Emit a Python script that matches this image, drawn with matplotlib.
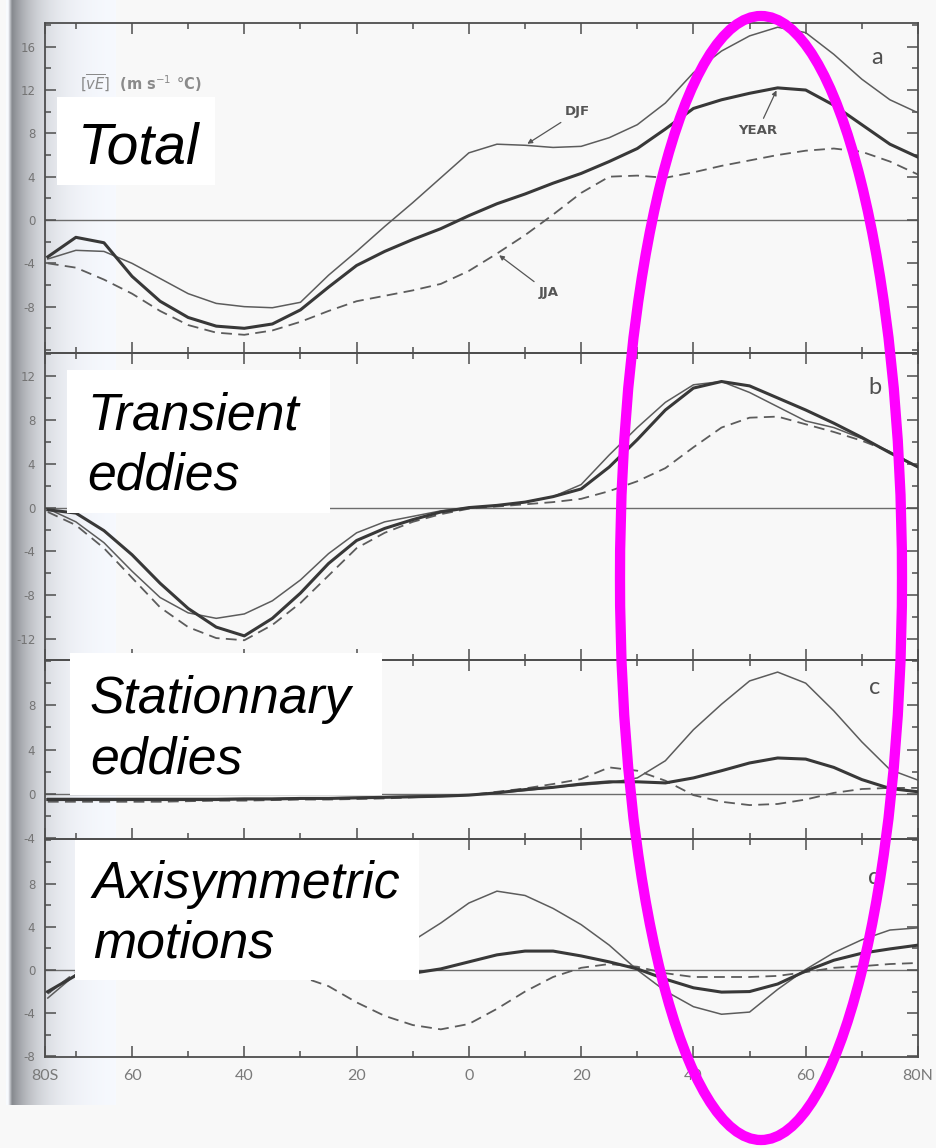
import numpy as np
import matplotlib
matplotlib.use("Agg")
import matplotlib.pyplot as plt
from matplotlib.patches import Ellipse, Rectangle
from matplotlib.ticker import MultipleLocator

# latitude grid (deg, negative = south)
LAT = list(range(-75, 81, 5))

# [vE] northward transport of sensible heat, m s-1 degC
TOTAL_DJF = [-3.6, -2.8, -2.9, -4.0, -5.4, -6.8, -7.7, -8.0, -8.1, -7.6, -5.1, -2.9, -0.6, 1.6, 3.9, 6.2,
             7.0, 6.9, 6.7, 6.8, 7.6, 8.8, 10.8, 13.6, 15.6, 17.0, 17.8, 17.3, 15.3, 13.0, 11.1, 9.9]
TOTAL_YEAR = [-3.4, -1.6, -2.1, -5.2, -7.5, -9.0, -9.8, -10.0, -9.6, -8.3, -6.2, -4.2, -2.9, -1.8, -0.8, 0.4,
              1.5, 2.4, 3.4, 4.3, 5.4, 6.6, 8.4, 10.3, 11.1, 11.7, 12.2, 12.0, 10.6, 8.8, 7.0, 5.8]
TOTAL_JJA = [-4.0, -4.4, -5.5, -6.8, -8.4, -9.7, -10.4, -10.6, -10.2, -9.4, -8.4, -7.5, -7.0, -6.5, -5.9, -4.7,
             -3.1, -1.4, 0.5, 2.5, 4.0, 4.1, 3.9, 4.4, 5.0, 5.5, 6.0, 6.4, 6.6, 6.3, 5.4, 4.2]

TRANS_DJF = [-0.1, -1.3, -3.2, -5.8, -8.2, -9.6, -10.1, -9.7, -8.5, -6.6, -4.2, -2.3, -1.3, -0.8, -0.3, 0.0,
             0.2, 0.5, 1.0, 2.1, 4.8, 7.3, 9.6, 11.2, 11.5, 10.5, 9.2, 7.9, 7.3, 6.3, 5.1, 3.7]
TRANS_YEAR = [-0.2, -0.5, -2.1, -4.3, -6.9, -9.2, -10.9, -11.7, -10.1, -7.8, -5.1, -3.0, -1.9, -1.1, -0.4, 0.0,
              0.2, 0.5, 1.0, 1.7, 3.7, 6.2, 8.9, 10.9, 11.5, 11.1, 10.0, 8.9, 7.7, 6.4, 5.0, 3.7]
TRANS_JJA = [-0.4, -1.6, -3.7, -6.4, -9.1, -10.9, -11.9, -12.1, -10.7, -8.7, -6.2, -3.7, -2.3, -1.3, -0.6, -0.1,
             0.1, 0.3, 0.5, 0.8, 1.5, 2.4, 3.6, 5.5, 7.3, 8.2, 8.3, 7.6, 6.9, 6.1, 5.1, 3.7]

STAT_DJF = [-0.4, -0.4, -0.4, -0.4, -0.4, -0.4, -0.4, -0.4, -0.4, -0.35, -0.35, -0.3, -0.25, -0.2, -0.15, -0.1,
            0.1, 0.3, 0.6, 0.8, 1.0, 1.45, 3.0, 5.8, 8.1, 10.2, 11.0, 10.0, 7.5, 4.7, 2.2, 1.25]
STAT_YEAR = [-0.5, -0.5, -0.5, -0.5, -0.5, -0.5, -0.5, -0.45, -0.45, -0.4, -0.4, -0.35, -0.3, -0.25, -0.2, -0.1,
             0.1, 0.4, 0.6, 0.9, 1.1, 1.1, 1.0, 1.45, 2.1, 2.8, 3.25, 3.15, 2.4, 1.3, 0.5, 0.2]
STAT_JJA = [-0.7, -0.7, -0.7, -0.7, -0.7, -0.65, -0.6, -0.6, -0.55, -0.5, -0.5, -0.45, -0.4, -0.3, -0.2, -0.1,
            0.2, 0.5, 0.9, 1.35, 2.4, 2.1, 1.2, -0.1, -0.7, -1.0, -0.9, -0.5, 0.1, 0.45, 0.55, 0.55]

AXI_DJF = [-2.6, -0.4, 0.4, 0.5, 0.2, -0.3, -0.6, -0.7, -0.6, -0.3, 0.2, 0.9, 1.8, 2.7, 4.35, 6.2,
           7.3, 6.9, 5.7, 4.2, 2.3, 0.0, -1.95, -3.4, -4.1, -3.9, -1.8, 0.05, 1.6, 2.8, 3.7, 3.9]
AXI_YEAR = [-2.0, -0.5, 0.3, 0.6, 0.5, 0.2, -0.2, -0.5, -0.7, -0.7, -0.6, -0.5, -0.4, -0.3, 0.1, 0.75,
            1.4, 1.75, 1.75, 1.3, 0.75, 0.1, -0.85, -1.65, -2.05, -2.0, -1.3, -0.1, 0.9, 1.55, 1.95, 2.3]
AXI_JJA = [-2.2, -0.2, 0.6, 1.0, 1.1, 1.0, 0.8, 0.5, 0.1, -0.6, -1.5, -3.0, -4.25, -5.1, -5.5, -5.0,
           -3.6, -2.0, -0.65, 0.2, 0.55, 0.3, -0.3, -0.65, -0.65, -0.65, -0.55, -0.2, 0.2, 0.35, 0.55, 0.65]

PANEL_LETTERS = ["a", "b", "c", "d"]
PANEL_TITLES = [["Total"], ["Transient", "eddies"], ["Stationnary", "eddies"], ["Axisymmetric", "motions"]]
X_MAJOR = [-75.5, -60, -40, -20, 0, 20, 40, 60, 80]
X_LABELS = ["80S", "60", "40", "20", "0", "20", "40", "60", "80N"]
Y_TICKS = [[-8, -4, 0, 4, 8, 12, 16], [-12, -8, -4, 0, 4, 8, 12], [-4, 0, 4, 8], [-8, -4, 0, 4, 8]]

series = [(TOTAL_DJF, TOTAL_YEAR, TOTAL_JJA), (TRANS_DJF, TRANS_YEAR, TRANS_JJA),
          (STAT_DJF, STAT_YEAR, STAT_JJA), (AXI_DJF, AXI_YEAR, AXI_JJA)]

W, H = 936, 1148
BG = "#f8f8f8"


def fx(px):
    return px / W


def fy(py):
    return 1 - py / H


fig = plt.figure(figsize=(W / 100, H / 100), dpi=100, facecolor=BG)

# shaded book gutter down the left edge
gut = fig.add_axes([fx(6), fy(1105), 110 / W, 1105 / H])
gut.set_zorder(-1)
gut.axis("off")
xs = np.linspace(6, 116, 300)
g = 0.975 - 0.45 * np.exp(-(xs - 12) / 26)
g = np.where(xs < 12, 0.975 - 0.45 * np.clip((xs - 8) / 4, 0, 1), g)
rgb = np.stack([g, g + 0.01, g + 0.03], axis=-1).clip(0, 1)[None, :, :]
gut.imshow(rgb, aspect="auto", extent=(0, 1, 0, 1))

# panels: top/bottom in pixels and y-limits
rows = [(23, 353), (353, 660), (660, 839), (839, 1057)]
ylims = [(-12.28, 18.19), (-13.9, 14.1), (-4.06, 12.09), (-8.06, 12.13)]

spine_c = "#4e4e4e"
axes = []
for i, ((top, bot), (djf, year, jja)) in enumerate(zip(rows, series)):
    ax = fig.add_axes([fx(45), fy(bot), fx(918) - fx(45), (bot - top) / H])
    ax.set_facecolor("none")
    ax.set_xlim(-75.5, 80)
    ax.set_ylim(*ylims[i])
    ax.axhline(0, color="#6c6c6c", lw=1.0, zorder=1)
    ax.plot(LAT, djf, color="#5c5c5c", lw=1.1, zorder=2, solid_joinstyle="round")
    ax.plot(LAT, jja, color="#5c5c5c", lw=1.3, dashes=(6, 3.5), zorder=2)
    ax.plot(LAT, year, color="#383838", lw=2.2, zorder=3, solid_joinstyle="round")

    for s in ax.spines.values():
        s.set_color(spine_c)
        s.set_linewidth(1.3)
    ax.set_xticks(X_MAJOR)
    ax.xaxis.set_minor_locator(MultipleLocator(10))
    ax.set_yticks(Y_TICKS[i])
    ax.set_yticklabels([str(v) for v in Y_TICKS[i]])
    ax.yaxis.set_minor_locator(MultipleLocator(2))
    ax.tick_params(which="both", direction="in", top=True, right=True, color=spine_c, width=1.1)
    ax.tick_params(which="major", length=8)
    ax.tick_params(which="minor", length=4.5)
    ax.tick_params(axis="y", labelsize=8.5, labelcolor="#747474", pad=7)
    if i == 3:
        ax.set_xticklabels(X_LABELS, fontsize=11.5, color="#7a7a7a", family="Lato")
        ax.tick_params(axis="x", pad=9)
    else:
        ax.tick_params(axis="x", labelbottom=False)
    axes.append(ax)

# curve labels in the top panel
ax = axes[0]
lab = dict(fontsize=9.5, color="#555555", family="DejaVu Sans", weight="bold")
arr = dict(arrowstyle="-|>", color="#555555", lw=0.9, mutation_scale=7)
ax.annotate("DJF", xy=(LAT[17], TOTAL_DJF[17]), xytext=(19.4, 10.0), ha="center", va="center",
            arrowprops=arr, **lab)
ax.annotate("JJA", xy=(LAT[16], TOTAL_JJA[16]), xytext=(14.2, -6.7), ha="center", va="center",
            arrowprops=arr, **lab)
ax.annotate("YEAR", xy=(LAT[26], TOTAL_YEAR[26]), xytext=(51.5, 8.3), ha="center", va="center",
            arrowprops=arr, **lab)
fig.text(fx(80), fy(83), r"$[\overline{vE}]$  (m s$^{-1}$ °C)", fontsize=10.5, color="#8a8a8a",
         va="center", weight="bold")

# panel letters
for letter, (px, py) in zip(PANEL_LETTERS, [(877, 57), (875, 387), (875, 688), (875, 877)]):
    fig.text(fx(px), fy(py), letter, fontsize=17, color="#505050", family="Lato",
             ha="center", va="center")

# white caption boxes with the component names
boxes = [(57, 97, 215, 185), (67, 370, 330, 513), (70, 653, 382, 795), (75, 840, 419, 980)]
baselines = [[(78, 163)], [(87, 430), (87, 490)], [(90, 713), (90, 773)], [(93, 898), (93, 958)]]
sizes = [41, 37.3, 37.3, 37.3]
for (x0, y0, x1, y1), lines, words, fs in zip(boxes, baselines, PANEL_TITLES, sizes):
    fig.add_artist(Rectangle((fx(x0), fy(y1)), (x1 - x0) / W, (y1 - y0) / H,
                             transform=fig.transFigure, fc="white", ec="none", zorder=5))
    for (tx, ty), word in zip(lines, words):
        fig.text(fx(tx), fy(ty), word, fontsize=fs, style="italic", family="Liberation Sans",
                 va="baseline", color="black", zorder=6)

# highlight of the mid-latitude band
fig.add_artist(Ellipse((fx(761), fy(578)), 282 / W, 1124 / H, transform=fig.transFigure,
                       fill=False, ec="#ff00ff", lw=7.4, zorder=10))

fig.savefig("out.png", dpi=100, facecolor=BG)
